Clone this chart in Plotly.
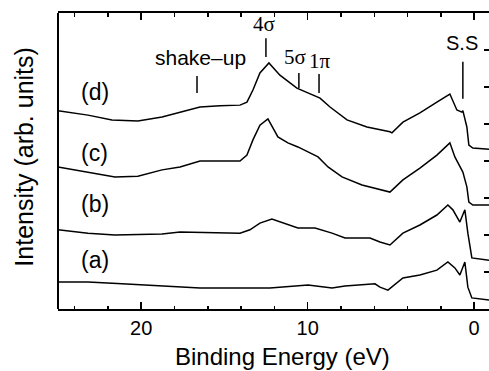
import plotly.graph_objects as go

# Binding energy (eV) and intensity (arb. units, offset per spectrum)
d_energy = [25.00, 23.20, 21.76, 20.20, 18.75, 17.67, 16.47, 15.27, 14.07, 13.65, 13.29, 12.87, 12.33,
            11.67, 10.65, 9.26, 8.66, 7.64, 6.44, 5.06, 4.94, 4.28, 3.26, 2.24, 1.46, 1.04, 0.74, 0.68,
            0.44, 0.32, 0.14, 0.08, -0.89]
d_intensity = [5.36, 5.24, 5.11, 5.08, 5.19, 5.32, 5.46, 5.49, 5.51, 5.59, 5.92, 6.38, 6.65,
               6.32, 5.97, 5.70, 5.46, 5.11, 4.92, 4.79, 4.76, 5.05, 5.30, 5.59, 5.81, 5.38, 5.32, 5.36,
               4.92, 4.43, 4.35, 4.35, 4.32]

c_energy = [25.00, 23.20, 21.58, 20.20, 18.75, 17.67, 16.47, 15.27, 14.07, 13.65, 13.29, 12.87, 12.39,
            11.79, 11.19, 10.59, 9.38, 8.78, 7.94, 6.74, 5.96, 5.06, 4.28, 3.26, 2.24, 1.46, 1.16, 0.98,
            0.68, 0.44, 0.32, 0.08, -0.89]
c_intensity = [3.84, 3.70, 3.57, 3.59, 3.76, 3.84, 4.00, 4.00, 4.00, 4.16, 4.57, 4.97, 5.14,
               4.65, 4.49, 4.38, 4.11, 3.84, 3.57, 3.35, 3.27, 3.16, 3.49, 3.81, 4.16, 4.49, 4.11, 3.95,
               3.70, 3.30, 2.89, 2.81, 2.81]

b_energy = [25.00, 23.20, 21.58, 18.75, 17.67, 15.27, 14.07, 13.47, 12.87, 12.15, 11.19, 10.59, 9.56,
            8.54, 7.76, 6.26, 5.66, 5.06, 4.28, 3.26, 2.24, 1.58, 1.28, 0.86, 0.56, 0.38, 0.14, -0.89]
b_intensity = [2.14, 2.05, 2.00, 2.03, 2.08, 2.05, 2.05, 2.14, 2.32, 2.43, 2.27, 2.19, 2.19,
               2.05, 1.92, 1.92, 1.81, 1.73, 2.05, 2.27, 2.54, 2.81, 2.68, 2.35, 2.68, 2.05, 1.38, 1.32]

a_energy = [25.00, 23.20, 21.16, 18.75, 16.47, 14.07, 12.27, 9.98, 8.54, 7.76, 5.96, 5.66, 5.18,
            4.28, 3.26, 2.24, 1.58, 1.16, 0.86, 0.56, 0.38, 0.14, -0.89]
a_intensity = [0.73, 0.73, 0.68, 0.62, 0.57, 0.57, 0.57, 0.65, 0.57, 0.62, 0.68, 0.59, 0.51,
               0.84, 0.92, 1.05, 1.27, 1.11, 0.92, 1.27, 0.59, 0.30, 0.24]

series_labels = ["(a)", "(b)", "(c)", "(d)"]
label_y = [1.32, 2.84, 4.22, 5.86]
label_x = 22.8

peak_names = ["shake\u2013up", "4\u03c3", "5\u03c3", "1\u03c0", "S.S"]
peak_text_x = [16.47, 12.63, 10.77, 9.26, 0.74]
peak_text_y = [6.81, 7.70, 6.81, 6.70, 7.18]
peak_line_x = [16.65, 12.51, 10.53, 9.32, 0.68]
peak_line_top = [6.30, 7.32, 6.38, 6.35, 6.68]
peak_line_bottom = [5.84, 6.81, 5.97, 5.84, 5.68]

fig = go.Figure()
for xs, ys in [(a_energy, a_intensity), (b_energy, b_intensity),
               (c_energy, c_intensity), (d_energy, d_intensity)]:
    fig.add_trace(go.Scatter(x=xs, y=ys, mode="lines",
                             line=dict(color="black", width=1.5),
                             showlegend=False, hoverinfo="skip"))

annotations = []
for lab, ly in zip(series_labels, label_y):
    annotations.append(dict(x=label_x, y=ly, xref="x", yref="y", text=lab, showarrow=False,
                            font=dict(family="Liberation Sans", size=23, color="black"),
                            xanchor="center", yanchor="middle"))

shapes = []
for i, name in enumerate(peak_names):
    serif = name in ("4\u03c3", "5\u03c3", "1\u03c0")
    if serif:
        fsize = 21
    elif name == "S.S":
        fsize = 20
    else:
        fsize = 21
    annotations.append(dict(x=peak_text_x[i], y=peak_text_y[i], xref="x", yref="y", text=name,
                            showarrow=False,
                            font=dict(family="Liberation Serif" if serif else "Liberation Sans",
                                      size=fsize, color="black"),
                            xanchor="center", yanchor="middle"))
    shapes.append(dict(type="line", xref="x", yref="y",
                       x0=peak_line_x[i], x1=peak_line_x[i],
                       y0=peak_line_bottom[i], y1=peak_line_top[i],
                       line=dict(color="black", width=1.5)))

# left frame line
shapes.append(dict(type="line", xref="paper", yref="paper", x0=0, x1=0, y0=0, y1=1,
                   line=dict(color="black", width=2)))

annotations.append(dict(x=0.52, y=-0.162, xref="paper", yref="paper",
                        text="Binding Energy (eV)", showarrow=False,
                        font=dict(family="Liberation Sans", size=24, color="black"),
                        xanchor="center", yanchor="middle"))
annotations.append(dict(x=-0.081, y=0.515, xref="paper", yref="paper",
                        text="Intensity (arb. units)", showarrow=False, textangle=-90,
                        font=dict(family="Liberation Sans", size=25, color="black"),
                        xanchor="center", yanchor="middle"))

fig.update_layout(
    width=489, height=371,
    margin=dict(l=58, r=0, t=13, b=62),
    paper_bgcolor="white", plot_bgcolor="white",
    annotations=annotations, shapes=shapes,
    xaxis=dict(range=[25, -0.89], tickmode="array", tickvals=[20, 10, 0],
               ticktext=["20", "10", "0"], ticks="inside", ticklen=7, tickwidth=1.5,
               tickcolor="black", showline=True, linewidth=2, linecolor="black",
               mirror="allticks", showgrid=False, zeroline=False,
               tickfont=dict(family="Liberation Sans", size=20, color="black"),
               minor=dict(dtick=2, tick0=0, ticks="inside", ticklen=3.5, tickwidth=1.5,
                          tickcolor="black", showgrid=False)),
    yaxis=dict(range=[0, 8], dtick=1, tick0=0, side="right", ticks="inside", ticklen=5,
               tickwidth=1.5, tickcolor="black", showticklabels=False, showline=False,
               showgrid=False, zeroline=False),
)

fig.write_html("out.html", config={"displayModeBar": False, "staticPlot": True},
               post_script="document.body.style.margin='0';document.body.style.overflow='hidden';")
